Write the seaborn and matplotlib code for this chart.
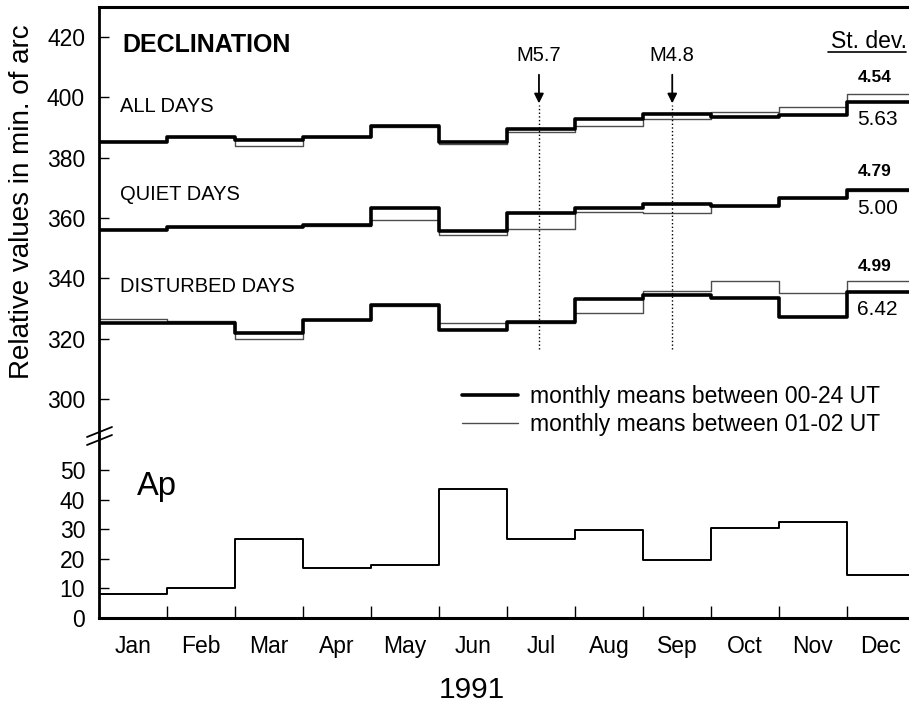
import numpy as np
import pandas as pd
import seaborn as sns
import matplotlib.pyplot as plt
from matplotlib.lines import Line2D

# monthly values, 1991
months = ['Jan', 'Feb', 'Mar', 'Apr', 'May', 'Jun', 'Jul', 'Aug', 'Sep', 'Oct', 'Nov', 'Dec']

all_00_24 = [385.2, 387.0, 385.9, 387.0, 390.5, 385.3, 389.4, 392.7, 394.3, 393.6, 394.2, 398.4]
all_01_02 = [385.5, 387.0, 383.9, 386.8, 390.0, 384.5, 388.5, 390.5, 392.7, 395.0, 396.9, 401.0]
quiet_00_24 = [355.9, 356.9, 356.9, 357.8, 363.5, 355.8, 361.6, 363.4, 364.6, 364.0, 366.6, 369.3]
quiet_01_02 = [356.3, 356.9, 356.9, 357.5, 359.4, 354.3, 356.3, 362.0, 361.6, 364.0, 366.6, 369.1]
dist_00_24 = [325.2, 325.4, 321.8, 326.1, 331.1, 322.8, 325.7, 333.3, 334.6, 333.5, 327.2, 335.4]
dist_01_02 = [326.6, 326.0, 320.0, 326.1, 330.8, 325.3, 325.3, 328.6, 336.0, 339.0, 335.2, 339.0]
ap = [8.1, 10.0, 26.8, 16.8, 17.8, 43.7, 26.7, 29.6, 19.6, 30.5, 32.5, 14.4]

group_names = ['ALL DAYS', 'QUIET DAYS', 'DISTURBED DAYS']
group_label_y = [396.8, 367.7, 337.5]
std_00_24 = ['4.54', '4.79', '4.99']
std_01_02 = ['5.63', '5.00', '6.42']
std_00_24_y = [406.4, 375.3, 343.9]
std_01_02_y = [392.5, 363.1, 329.6]

quakes = ['M5.7', 'M4.8']
quake_x = [6.47, 8.43]


def steps(vals):
    # month edges 0..12, last value repeated so the last month gets its step
    return pd.DataFrame({'x': np.arange(13), 'y': list(vals) + [vals[-1]]})


sns.set_style('ticks')
plt.rcParams['font.family'] = ['Liberation Sans', 'DejaVu Sans']
plt.rcParams.update({'text.color': 'black', 'axes.labelcolor': 'black',
                     'xtick.color': 'black', 'ytick.color': 'black',
                     'axes.edgecolor': 'black'})

W, H = 909, 705
fig = plt.figure(figsize=(W / 100, H / 100), dpi=100)
L = 99 / W
AW = 816 / W
ax_top = fig.add_axes([L, 1 - 437 / H, AW, (437 - 7) / H])
ax_bot = fig.add_axes([L, 1 - 618 / H, AW, (618 - 437) / H])

thick = dict(color='black', linewidth=2.6)
thin = dict(color='0.3', linewidth=1.0)

for v01, v00 in [(all_01_02, all_00_24), (quiet_01_02, quiet_00_24), (dist_01_02, dist_00_24)]:
    sns.lineplot(data=steps(v01), x='x', y='y', ax=ax_top, drawstyle='steps-post', **thin)
    sns.lineplot(data=steps(v00), x='x', y='y', ax=ax_top, drawstyle='steps-post', **thick)

sns.lineplot(data=steps(ap), x='x', y='y', ax=ax_bot, drawstyle='steps-post',
             color='black', linewidth=1.4)

# earthquakes
for name, qx in zip(quakes, quake_x):
    ax_top.plot([qx, qx], [316.5, 397.5], color='black', lw=1.0, ls=':')
    ax_top.annotate(name, xy=(qx, 398.0), xytext=(qx, 414.0), ha='center', va='center',
                    fontsize=14.5,
                    arrowprops=dict(arrowstyle='-|>', color='black', lw=1.3,
                                    shrinkA=5, shrinkB=0, mutation_scale=14))

ax_top.text(0.34, 417.4, 'DECLINATION', fontsize=18, fontweight='bold', va='center')
for name, gy in zip(group_names, group_label_y):
    ax_top.text(0.31, gy, name, fontsize=14.5, va='center')
for s, sy in zip(std_00_24, std_00_24_y):
    ax_top.text(11.41, sy, s, fontsize=12.5, fontweight='bold', ha='center', va='center')
for s, sy in zip(std_01_02, std_01_02_y):
    ax_top.text(11.45, sy, s, fontsize=15, ha='center', va='center')

fig.text(907 / W, 1 - 42 / H, 'St. dev.', fontsize=16.5, ha='right', va='center')
fig.add_artist(Line2D([828 / W, 906 / W], [1 - 52 / H, 1 - 52 / H], color='black', lw=1.2,
                      transform=fig.transFigure))

ax_bot.text(0.56, 41.5, 'Ap', fontsize=23.5, va='baseline')

handles = [Line2D([], [], **thick), Line2D([], [], **thin)]
ax_top.legend(handles, ['monthly means between 00-24 UT', 'monthly means between 01-02 UT'],
              loc='upper left', bbox_to_anchor=(462 / W, 1 - 385 / H),
              bbox_transform=fig.transFigure, frameon=False, fontsize=16.5,
              handlelength=2.45, handletextpad=0.5, labelspacing=0.2,
              borderpad=0, borderaxespad=0)

# axes styling
for ax in (ax_top, ax_bot):
    ax.set_xlim(0, 12)
    ax.set_xlabel('')
    ax.set_ylabel('')
    ax.spines['right'].set_visible(False)
    ax.spines['left'].set_linewidth(2.0)
    ax.tick_params(axis='y', direction='in', length=7, width=1, labelsize=16.5, pad=10)

ax_top.set_ylim(287.5, 429.9)
ax_top.set_yticks(np.arange(300, 421, 20))
ax_top.spines['bottom'].set_visible(False)
ax_top.spines['top'].set_linewidth(2.2)
ax_top.set_xticks([])

ax_bot.set_ylim(0, 61.1)
ax_bot.set_yticks(np.arange(0, 51, 10))
ax_bot.spines['top'].set_visible(False)
ax_bot.spines['bottom'].set_linewidth(2.2)
ax_bot.set_xticks(np.arange(13))
ax_bot.set_xticklabels([''] * 13)
ax_bot.set_xticks(np.arange(12) + 0.5, minor=True)
ax_bot.set_xticklabels(months, minor=True)
ax_bot.tick_params(axis='x', which='major', direction='in', length=9, width=1)
ax_bot.tick_params(axis='x', which='minor', length=0, labelsize=16.5, pad=12)

# axis break mark
for y0 in (445, 437):
    fig.add_artist(Line2D([87 / W, 112 / W], [1 - y0 / H, 1 - (y0 - 10) / H],
                          color='black', lw=1.3, transform=fig.transFigure))

fig.text(22 / W, 1 - 202 / H, 'Relative values in min. of arc', rotation=90,
         fontsize=20, ha='center', va='center')
fig.text(472 / W, 1 - 690 / H, '1991', fontsize=21.5, ha='center', va='center')

fig.savefig('out.png', dpi=100)
